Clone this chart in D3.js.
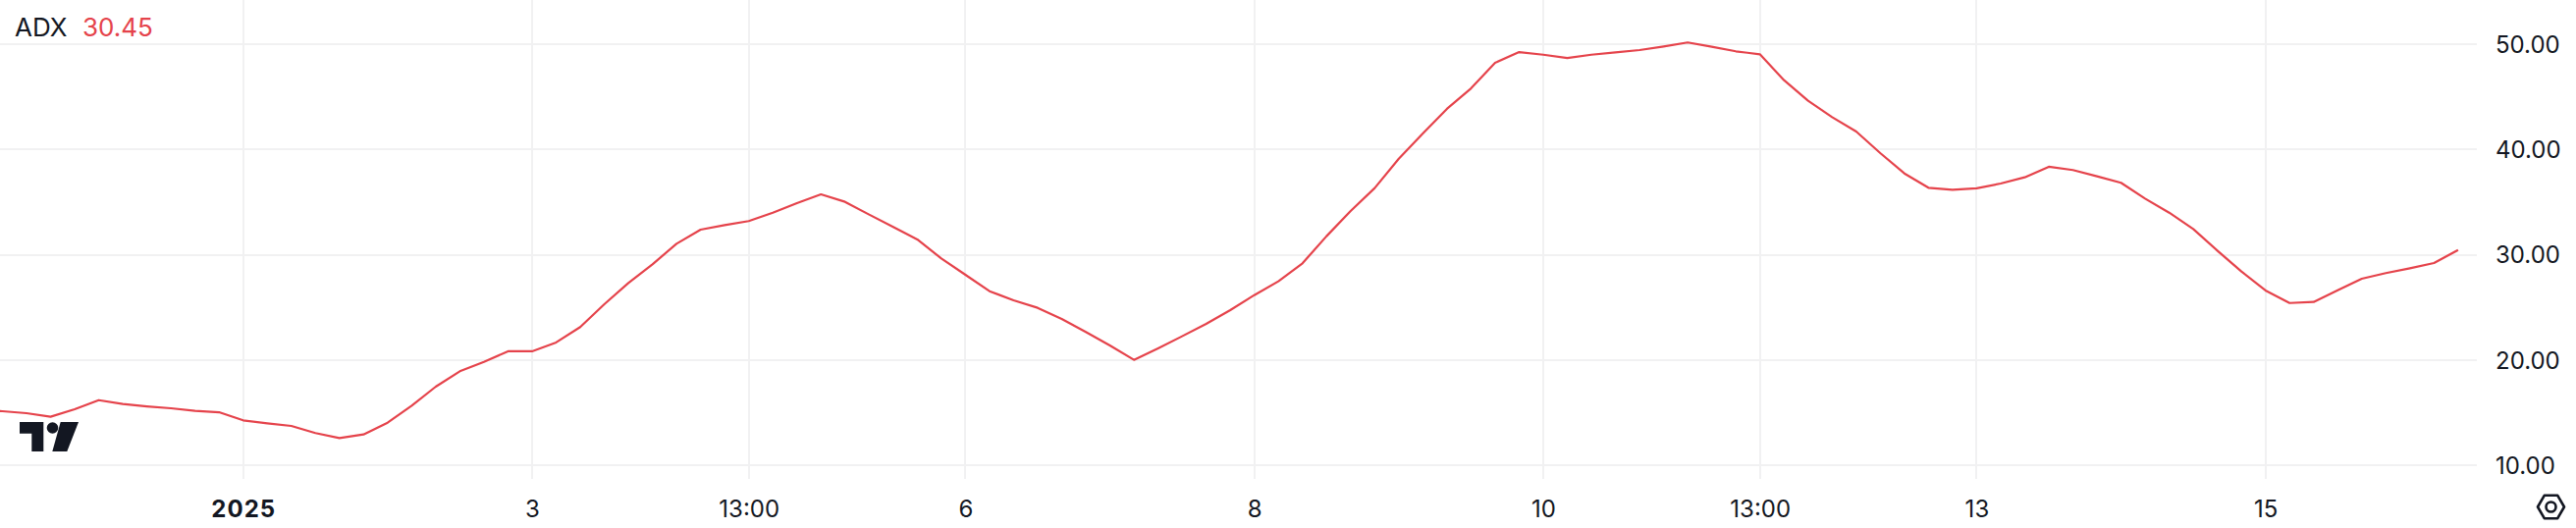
<!DOCTYPE html>
<html><head><meta charset="utf-8">
<script src="https://cdn.jsdelivr.net/npm/d3@7/dist/d3.min.js"></script>
<style>
html,body{margin:0;padding:0;background:#fff;}
svg{display:block;}
text{font-family:Inter,"Noto Sans",sans-serif;}
</style></head><body>
<svg id="chart" width="2624" height="538"></svg>
<script>
// ---- data ----
const seriesName = "ADX";
const lastValueLabel = "30.45";
const firstBar = -11; // bar index of first value (4h bars, 0 = 1 Jan 2025 01:00)
const adxValues = [
  15.20, 15.13, 14.94, 14.60, 15.31, 16.18, 15.81, 15.59, 15.41, 15.16, 15.03,
  14.26, 13.98, 13.73, 13.05, 12.58, 12.92, 14.04, 15.66, 17.46, 18.92, 19.82,
  20.82, 20.82, 21.66, 23.12, 25.29, 27.31, 29.08, 31.04, 32.38, 32.81, 33.19,
  33.99, 34.90, 35.73, 35.02, 33.81, 32.63, 31.45, 29.64, 28.09, 26.53, 25.66,
  24.95, 23.89, 22.65, 21.38, 20.01, 21.10, 22.25, 23.43, 24.73, 26.16, 27.47,
  29.18, 31.76, 34.15, 36.33, 39.12, 41.52, 43.85, 45.80, 48.23, 49.25, 49.00,
  48.69, 49.00, 49.22, 49.44, 49.78, 50.16, 49.75, 49.32, 49.04, 46.58, 44.62,
  43.07, 41.70, 39.65, 37.72, 36.36, 36.17, 36.31, 36.76, 37.35, 38.35, 38.04,
  37.45, 36.83, 35.33, 33.99, 32.44, 30.39, 28.40, 26.60, 25.41, 25.51, 26.63,
  27.72, 28.25, 28.71, 29.21, 30.45
];
const xTickBars = [0, 12, 21, 30, 42, 54, 63, 72, 84];
const xTickLabels = ["2025", "3", "13:00", "6", "8", "10", "13:00", "13", "15"];
const xTickBold = ["2025"];
const yTickValues = [10, 20, 30, 40, 50];

// ---- layout ----
const W = 2624, H = 538;
const plotRight = 2523, gridBottom = 488;
const lineColor = "#e5434b", textColor = "#131722", gridColor = "#f1f1f2";

const svg = d3.select("#chart");
svg.append("rect").attr("width", W).attr("height", H).attr("fill", "#fff");

const x = d3.scaleLinear().domain([0, 84]).range([247.7, 2307.7]);
const y = d3.scaleLinear().domain([10, 50]).range([474, 45]);

// grid
const grid = svg.append("g");
grid.selectAll("line.h").data(yTickValues).join("line")
  .attr("x1", 0).attr("x2", plotRight)
  .attr("y1", d => Math.round(y(d))).attr("y2", d => Math.round(y(d)))
  .attr("stroke", gridColor).attr("stroke-width", 2);
grid.selectAll("line.v").data(xTickBars).join("line")
  .attr("y1", 0).attr("y2", gridBottom)
  .attr("x1", d => Math.round(x(d))).attr("x2", d => Math.round(x(d)))
  .attr("stroke", gridColor).attr("stroke-width", 2);

// line
svg.append("clipPath").attr("id", "clip").append("rect")
  .attr("x", 0).attr("y", 0).attr("width", plotRight).attr("height", gridBottom);
const pts = adxValues.map((v, i) => [firstBar + i, v]);
svg.append("path").datum(pts)
  .attr("clip-path", "url(#clip)")
  .attr("fill", "none").attr("stroke", lineColor).attr("stroke-width", 2.2)
  .attr("stroke-linejoin", "round")
  .attr("d", d3.line().x(d => x(d[0])).y(d => y(d[1])));

// y axis (right)
const yAxis = d3.axisRight(y).tickValues(yTickValues).tickFormat(d3.format(".2f"))
  .tickSize(0).tickPadding(0);
const gy = svg.append("g").attr("transform", "translate(2542,0)").call(yAxis);
gy.select(".domain").remove();
gy.selectAll("text").attr("font-size", 24).attr("fill", textColor)
  .attr("font-family", "Inter, 'Noto Sans', sans-serif").attr("dy", "0.35em");

// x axis (bottom)
const xAxis = d3.axisBottom(x).tickValues(xTickBars)
  .tickFormat((d, i) => xTickLabels[i]).tickSize(0).tickPadding(0);
const gx = svg.append("g").attr("transform", "translate(0,527)").call(xAxis);
gx.select(".domain").remove();
gx.selectAll("text").attr("font-size", 24).attr("fill", textColor)
  .attr("font-family", "Inter, 'Noto Sans', sans-serif")
  .attr("dy", 0)
  .attr("font-weight", d => xTickBold.includes(xTickLabels[xTickBars.indexOf(d)]) ? 700 : 400)
  .attr("letter-spacing", d => xTickBold.includes(xTickLabels[xTickBars.indexOf(d)]) ? "1px" : "0px");

// legend
const leg = svg.append("g");
leg.append("text").attr("x", 15).attr("y", 36.5).attr("font-size", 26)
  .attr("fill", textColor).text(seriesName);
leg.append("text").attr("x", 84).attr("y", 36.5).attr("font-size", 26)
  .attr("fill", lineColor).text(lastValueLabel);

// TradingView logo
const logo = svg.append("g").attr("fill", "#131722");
logo.append("path").attr("d", "M20,430 H44.3 V460 H32.3 V441.7 H20 Z");
logo.append("circle").attr("cx", 53.5).attr("cy", 436).attr("r", 5.8);
logo.append("path").attr("d", "M61.7,430 H80 L68.3,460 H53.3 Z");

// settings hexagon icon
const hx = 2598.5, hy = 516.5, hr = 13.5;
const hexPts = d3.range(6).map(k => {
  const a = Math.PI / 3 * k;
  return [hx + hr * Math.cos(a), hy + hr * Math.sin(a)];
});
svg.append("polygon").attr("points", hexPts.map(p => p.join(",")).join(" "))
  .attr("fill", "none").attr("stroke", "#131722").attr("stroke-width", 2.6)
  .attr("stroke-linejoin", "round");
svg.append("circle").attr("cx", hx).attr("cy", hy).attr("r", 5)
  .attr("fill", "none").attr("stroke", "#131722").attr("stroke-width", 2.6);
</script>
</body></html>
